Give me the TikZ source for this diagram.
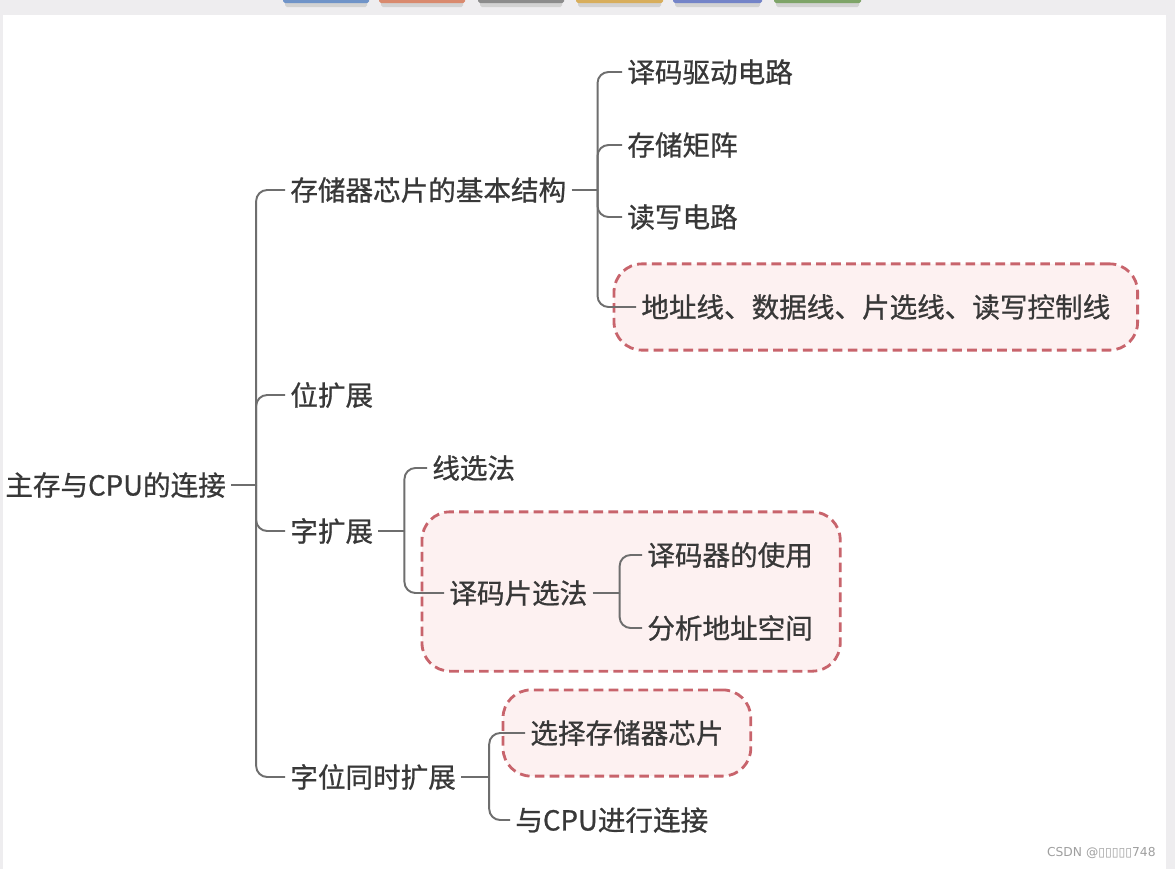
\documentclass[tikz,border=0pt]{standalone}
\usepackage{fontspec}
\newfontfamily\cjk[FakeBold=0.8]{Noto Sans CJK SC}
\newfontfamily\markfont{DejaVu Sans}
\usetikzlibrary{positioning, fit, backgrounds}

\definecolor{txtgray}{HTML}{383838}
\definecolor{linegray}{HTML}{6E6E6E}
\definecolor{boxred}{HTML}{C8646C}
\definecolor{boxfill}{HTML}{FDF1F1}
\definecolor{pagegray}{HTML}{EEEDEF}
\definecolor{tabblue}{HTML}{7094C8}
\definecolor{taborange}{HTML}{D98A6E}
\definecolor{tabgray}{HTML}{8C8C8C}
\definecolor{tabgold}{HTML}{D8AE5C}
\definecolor{tabviolet}{HTML}{7484C8}
\definecolor{tabgreen}{HTML}{7EA468}

\begin{document}
\begin{tikzpicture}[
        x=0.02cm, y=-0.02cm,
        every node/.style={font=\cjk\fontsize{15.7}{18}\selectfont, text=txtgray, inner sep=0.1cm},
        topic/.style={anchor=west},
        branch/.style={draw=linegray, line width=1.1pt, rounded corners=0.22cm},
        highlight/.style={draw=boxred, fill=boxfill, line width=1.6pt, dash pattern=on 5.5pt off 3pt, rounded corners=0.56cm, inner xsep=0.44cm, inner ysep=0.5cm},
        shadowtab/.style={fill=gray!35, rounded corners=1pt}
    ]
        \useasboundingbox (0,0) rectangle (1175,869);

        % Page background
        \begin{scope}[on background layer]
            \fill[pagegray] (0,0) rectangle (1175,869);
            \fill[white] (3,15) rectangle (1166,869);
        \end{scope}

        % Tabs at the top
        \foreach \xa/\xb/\col in {283/369/tabblue, 379/465/taborange, 478/564/tabgray, 576/663/tabgold, 673/762/tabviolet, 774/861/tabgreen} {
            \fill[shadowtab] (\xa+2,0) rectangle (\xb-2,7);
            \fill[\col, rounded corners=1pt] (\xa,-4) rectangle (\xb,3);
        }

        % Nodes
        \node[topic] (root) at (0,485) {主存与CPU的连接};

        \node[topic] (struct) at (285,190) {存储器芯片的基本结构};
        \node[topic] (bitext) at (285,395) {位扩展};
        \node[topic] (wordext) at (285,531) {字扩展};
        \node[topic] (both) at (285,777) {字位同时扩展};

        \node[topic] (decode) at (622,72) {译码驱动电路};
        \node[topic] (matrix) at (622,145) {存储矩阵};
        \node[topic] (rwcirc) at (622,217) {读写电路};
        \node[topic] (lines) at (636,307) {地址线、数据线、片选线、读写控制线};

        \node[topic] (linesel) at (427,468) {线选法};
        \node[topic] (decsel) at (444,593) {译码片选法};
        \node[topic] (decuse) at (642,555) {译码器的使用};
        \node[topic] (addrsp) at (642,628) {分析地址空间};

        \node[topic] (chip) at (525,733) {选择存储器芯片};
        \node[topic] (cpulink) at (510,820) {与CPU进行连接};

        \node[font=\markfont\fontsize{7}{8}\selectfont, text=gray!75, anchor=east] (mark) at (1161,853) {CSDN @▯▯▯▯▯748};

        % Highlight boxes
        \begin{scope}[on background layer]
            \node[highlight, fit=(lines)] (linesbox) {};
            \node[highlight, fit=(decsel) (decuse) (addrsp)] (decbox) {};
            \node[highlight, fit=(chip)] (chipbox) {};
        \end{scope}

        % Branches
        \draw[branch] (root.east) -- ++(25,0) coordinate (rootj);
        \foreach \c in {struct, bitext, wordext, both}
            \draw[branch] (rootj) |- (\c.west);

        \draw[branch] (struct.east) -- ++(26,0) coordinate (structj);
        \foreach \c in {decode, matrix, rwcirc, lines}
            \draw[branch] (structj) |- (\c.west);

        \draw[branch] (wordext.east) -- ++(26,0) coordinate (wordj);
        \foreach \c in {linesel, decsel}
            \draw[branch] (wordj) |- (\c.west);

        \draw[branch] (decsel.east) -- ++(27,0) coordinate (decj);
        \foreach \c in {decuse, addrsp}
            \draw[branch] (decj) |- (\c.west);

        \draw[branch] (both.east) -- ++(28,0) coordinate (bothj);
        \foreach \c in {chip, cpulink}
            \draw[branch] (bothj) |- (\c.west);

    \end{tikzpicture}
\end{document}
